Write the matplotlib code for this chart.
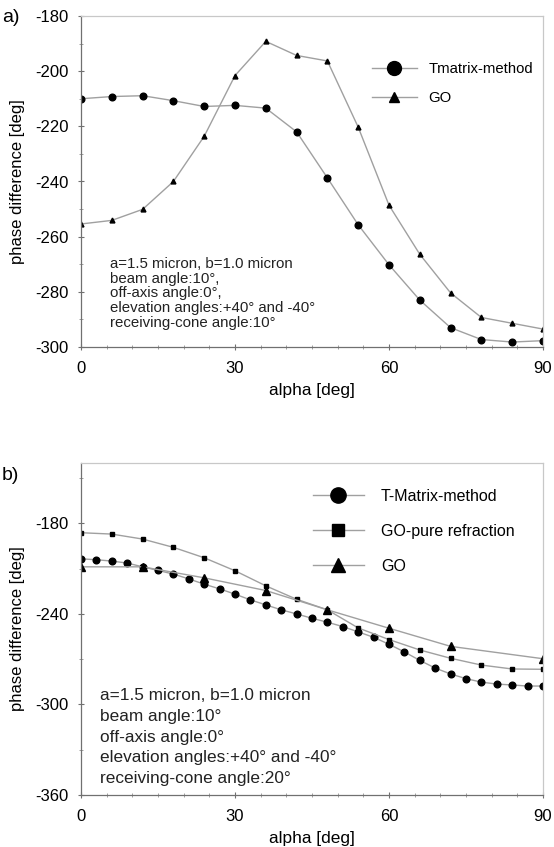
import matplotlib
matplotlib.use("Agg")
import matplotlib.pyplot as plt
from matplotlib.lines import Line2D
from matplotlib.ticker import MultipleLocator

plt.rcParams['font.family'] = ['Liberation Sans', 'DejaVu Sans']
plt.rcParams['axes.unicode_minus'] = False

# ---------------- data: panel a ----------------
alpha_a = [0, 6, 12, 18, 24, 30, 36, 42, 48, 54, 60, 66, 72, 78, 84, 90]
tmatrix_a = [-210.0, -209.2, -208.9, -210.7, -212.8, -212.4, -213.4, -222.0,
             -238.7, -255.7, -270.2, -283.0, -293.0, -297.3, -298.2, -297.7]
go_a = [-255.4, -254.1, -250.1, -240.0, -223.6, -201.6, -189.2, -194.3,
        -196.3, -220.3, -248.6, -266.4, -280.4, -289.3, -291.4, -293.5]

# ---------------- data: panel b ----------------
alpha_b_tm = list(range(0, 91, 3))
tmatrix_b = [-203.5, -204.1, -205.0, -206.3, -208.8, -211.2, -213.6, -216.8,
             -220.3, -223.4, -226.9, -230.7, -234.0, -237.3, -240.0, -242.9,
             -245.5, -248.4, -251.9, -255.5, -260.1, -265.2, -270.8, -275.9,
             -279.8, -282.9, -285.2, -286.5, -287.1, -287.8, -287.8]
alpha_b_pure = [0, 6, 12, 18, 24, 30, 36, 42, 48, 54, 60, 66, 72, 78, 84, 90]
gopure_b = [-186.2, -187.1, -190.4, -195.9, -202.8, -211.4, -221.4, -230.3,
            -237.3, -249.3, -257.0, -263.9, -269.4, -273.9, -276.5, -276.7]
alpha_b_go = [0, 12, 24, 36, 48, 60, 72, 90]
go_b = [-208.8, -208.8, -216.1, -224.5, -237.3, -249.5, -261.5, -269.7]

text_a = ("a=1.5 micron, b=1.0 micron\nbeam angle:10\u00b0,\noff-axis angle:0\u00b0,\n"
          "elevation angles:+40\u00b0 and -40\u00b0\nreceiving-cone angle:10\u00b0")
text_b = ("a=1.5 micron, b=1.0 micron\nbeam angle:10\u00b0\noff-axis angle:0\u00b0\n"
          "elevation angles:+40\u00b0 and -40\u00b0\nreceiving-cone angle:20\u00b0")

LINE = '#a0a0a0'
W, H = 554, 847
fig = plt.figure(figsize=(W / 100, H / 100), dpi=100)

def px_axes(l, t, r, b):
    return fig.add_axes([l / W, 1 - b / H, (r - l) / W, (b - t) / H])

def style(ax):
    for s in ['left', 'bottom']:
        ax.spines[s].set_color('#707070')
        ax.spines[s].set_linewidth(0.9)
    for s in ['top', 'right']:
        ax.spines[s].set_color('#c8c8c8')
        ax.spines[s].set_linewidth(0.9)
    ax.tick_params(which='major', direction='inout', length=5, width=0.8,
                   color='#707070', labelsize=12)
    ax.tick_params(axis='y', which='major', pad=6.5)
    ax.tick_params(axis='x', which='major', pad=7.5)
    ax.tick_params(which='minor', direction='inout', length=3, width=0.6,
                   color='#909090')
    ax.set_xlim(0, 90)
    ax.xaxis.set_major_locator(MultipleLocator(30))
    ax.xaxis.set_minor_locator(MultipleLocator(5))
    ax.set_xlabel('alpha [deg]', fontsize=12.4, labelpad=5)
    ax.set_ylabel('phase difference [deg]', fontsize=12, labelpad=7)

# ---------------- panel a ----------------
ax1 = px_axes(81, 16, 543, 347)
style(ax1)
ax1.set_ylim(-300, -180)
ax1.yaxis.set_major_locator(MultipleLocator(20))
ax1.yaxis.set_minor_locator(MultipleLocator(10))
ax1.plot(alpha_a, tmatrix_a, '-', color=LINE, lw=1.0, marker='o', ms=4.8,
         mfc='black', mec='black')
ax1.plot(alpha_a, go_a, '-', color=LINE, lw=1.0, marker='^', ms=3.5,
         mfc='black', mec='black')
h1 = [Line2D([], [], color=LINE, lw=1.0, marker='o', ms=10, mfc='black', mec='black'),
      Line2D([], [], color=LINE, lw=1.0, marker='^', ms=7.5, mfc='black', mec='black')]
ax1.legend(h1, ['Tmatrix-method', 'GO'], loc='upper left',
           bbox_to_anchor=(0.630, 0.860), frameon=False, fontsize=10.7,
           handlelength=3.0, handletextpad=0.8, labelspacing=1.0,
           borderpad=0, borderaxespad=0)
ax1.text(0.063, 0.272, text_a, transform=ax1.transAxes, fontsize=10.8,
         va='top', ha='left', linespacing=1.06, color='#222222')
fig.text(2 / W, 1 - 18 / H, 'a)', fontsize=14, va='center', ha='left')

# ---------------- panel b ----------------
ax2 = px_axes(81, 463, 543, 795)
style(ax2)
ax2.set_ylim(-360, -140)
ax2.yaxis.set_major_locator(MultipleLocator(60))
ax2.yaxis.set_minor_locator(MultipleLocator(30))
ax2.plot(alpha_b_tm, tmatrix_b, '-', color=LINE, lw=1.0, marker='o', ms=4.8,
         mfc='black', mec='black')
ax2.plot(alpha_b_pure, gopure_b, '-', color=LINE, lw=1.0, marker='s', ms=3.5,
         mfc='black', mec='black')
ax2.plot(alpha_b_go, go_b, '-', color=LINE, lw=1.0, marker='^', ms=5.5,
         mfc='black', mec='black')
h2 = [Line2D([], [], color=LINE, lw=1.0, marker='o', ms=11, mfc='black', mec='black'),
      Line2D([], [], color=LINE, lw=1.0, marker='s', ms=8, mfc='black', mec='black'),
      Line2D([], [], color=LINE, lw=1.0, marker='^', ms=10, mfc='black', mec='black')]
ax2.legend(h2, ['T-Matrix-method', 'GO-pure refraction', 'GO'], loc='upper left',
           bbox_to_anchor=(0.502, 0.922), frameon=False, fontsize=11.5,
           handlelength=3.2, handletextpad=1.05, labelspacing=1.25,
           borderpad=0, borderaxespad=0)
ax2.text(0.041, 0.322, text_b, transform=ax2.transAxes, fontsize=12.4,
         va='top', ha='left', linespacing=1.48, color='#222222')
fig.text(2 / W, 1 - 475 / H, 'b)', fontsize=14, va='center', ha='left')

fig.savefig('out.png', dpi=100)
